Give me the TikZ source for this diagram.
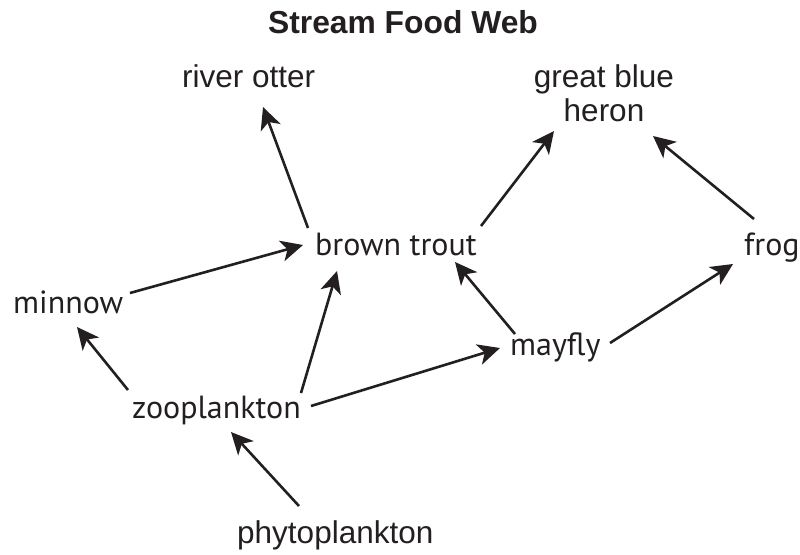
\documentclass[tikz,border=0pt]{standalone}
\usepackage{fontspec}
\setmainfont{Liberation Sans}
\newfontfamily\myr{PT Sans}
\usetikzlibrary{arrows.meta}
\definecolor{ink}{RGB}{35,31,32}
\tikzset{
  lbl/.style={inner sep=0pt, text=ink, font=\fontsize{31.5}{31.5}\selectfont, anchor=base west},
  mlbl/.style={inner sep=0pt, text=ink, font=\myr\fontsize{32}{32}\selectfont, anchor=base west},
  eat/.style={draw=ink, line width=2.6pt, -{Stealth[length=22pt,width=21pt,inset=6pt]}}
}
\begin{document}
\begin{tikzpicture}[x=1pt,y=-1pt]
\useasboundingbox (0,0) rectangle (800,554);
\node[inner sep=0pt, text=ink, font=\bfseries\fontsize{31.8}{31.8}\selectfont, anchor=base] (title) at (403,33) {Stream Food Web};
\node[lbl] (ro) at (182,87) {river otter};
\node[inner sep=0pt, text=ink, font=\fontsize{31.5}{34}\selectfont, align=center, anchor=center] (gbh) at (604,93) {great blue\\heron};
\node[mlbl] (bt) at (315,255) {brown trout};
\node[mlbl] (fr) at (744,255) {frog};
\node[mlbl] (mn) at (13,313) {minnow};
\node[mlbl] (mf) at (510,355) {mayfly};
\node[mlbl] (zp) at (132,418) {zooplankton};
\node[lbl] (pp) at (237,543) {phytoplankton};

\draw[eat] ([shift={(-7,-27)}]bt.base west) -- ([shift={(81,20)}]ro.base west);
\draw[eat] ([shift={(166,-29)}]bt.base west) -- ([shift={(-50,38)}]gbh.center);
\draw[eat] ([shift={(10,-36)}]fr.base west) -- ([shift={(49,43)}]gbh.center);
\draw[eat] ([shift={(117,-20)}]mn.base west) -- ([shift={(-12,-10)}]bt.base west);
\draw[eat] ([shift={(-4,-28)}]zp.base west) -- ([shift={(64,14)}]mn.base west);
\draw[eat] ([shift={(169,-25)}]zp.base west) -- ([shift={(22,16)}]bt.base west);
\draw[eat] ([shift={(179,-12)}]zp.base west) -- ([shift={(-10,-7)}]mf.base west);
\draw[eat] ([shift={(5,-21)}]mf.base west) -- ([shift={(140,7)}]bt.base west);
\draw[eat] ([shift={(100,-12)}]mf.base west) -- ([shift={(-11,9)}]fr.base west);
\draw[eat] ([shift={(62,-37)}]pp.base west) -- ([shift={(99,14)}]zp.base west);
\end{tikzpicture}
\end{document}
